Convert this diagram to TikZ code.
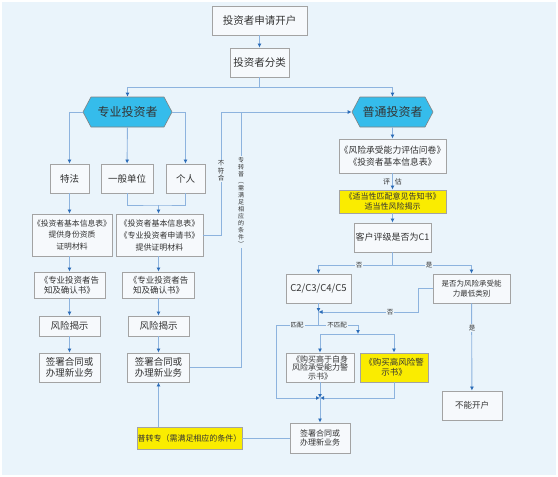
\documentclass[tikz,border=0pt]{standalone}
\usepackage{fontspec}
\setmainfont{Noto Sans CJK SC}
\usetikzlibrary{arrows.meta,shapes.symbols}
\definecolor{bgblue}{HTML}{EAF4FB}
\definecolor{lineblue}{HTML}{8DB3DE}
\definecolor{tipblue}{HTML}{2B6CB8}
\definecolor{boxgray}{HTML}{A3A3A3}
\definecolor{boxfill}{HTML}{F6F9FC}
\definecolor{hexcyan}{HTML}{35BCEB}
\definecolor{noteyellow}{HTML}{FAEC00}
\definecolor{txt}{HTML}{333333}
\newcommand{\fs}[2]{\fontsize{#1}{#2}\selectfont}

\begin{document}
\begin{tikzpicture}[x=1pt,y=-1pt,
		size/.style 2 args={minimum width=#1pt,minimum height=#2pt},
		box/.style={draw=boxgray,fill=boxfill,line width=0.9pt,align=center,inner sep=0pt,text=txt},
		note/.style={box,fill=noteyellow},
		hexa/.style={shape=signal,signal to=west and east,signal pointer angle=124,draw=boxgray!80!black,fill=hexcyan,line width=0.6pt,inner sep=0pt,text=txt,font=\fs{12}{14}},
		link/.style={draw=lineblue,line width=0.9pt},
		flow/.style={link,-{Latex[length=4pt,width=4pt,color=tipblue]}},
		tag/.style={fill=bgblue,inner sep=1pt,text=txt,font=\fs{6.5}{7.5}}]
	\useasboundingbox (0,0) rectangle (558,477);
	\fill[white] (0,0) rectangle (558,477);
	\fill[bgblue] (2,2) rectangle (556,475);

	\node[box,size={95}{29},font=\fs{10.5}{12}] (open) at (259.5,20.5) {投资者申请开户};
	\node[box,size={59}{29},font=\fs{10.5}{12}] (classify) at (259.5,62.5) {投资者分类};
	\node[hexa,size={89}{30}] (prohex) at (127.5,112) {专业投资者};
	\node[hexa,size={81}{30}] (comhex) at (392.5,112) {普通投资者};

	\node[box,size={39}{29},font=\fs{9.5}{11}] (tefa) at (69.5,178.5) {特法};
	\node[box,size={52}{29},font=\fs{9.5}{11}] (unit) at (127,178.5) {一般单位};
	\node[box,size={39}{29},font=\fs{9.5}{11}] (person) at (185.5,178.5) {个人};
	\node[box,size={80}{42},font=\fs{7.8}{11.5}] (docA) at (72,235) {《投资者基本信息表》\\提供身份资质\\证明材料};
	\node[box,size={87}{42},font=\fs{8}{12}] (docB) at (159.5,235) {《投资者基本信息表》\\《专业投资者申请书》\\提供证明材料};
	\node[box,size={71}{26},font=\fs{8.5}{10}] (notiA) at (69.5,285) {《专业投资者告\\知及确认书》};
	\node[box,size={72}{26},font=\fs{8.5}{10}] (notiB) at (158.5,285) {《专业投资者告\\知及确认书》};
	\node[box,size={61}{20},font=\fs{9.5}{11}] (riskA) at (69.5,326) {风险揭示};
	\node[box,size={61}{20},font=\fs{9.5}{11}] (riskB) at (158.5,326) {风险揭示};
	\node[box,size={61}{29},font=\fs{9.5}{11}] (signA) at (69.5,367.5) {签署合同或\\办理新业务};
	\node[box,size={62}{29},font=\fs{9.5}{11}] (signB) at (158.5,367.5) {签署合同或\\办理新业务};
	\node[note,size={105}{22},font=\fs{8}{10}] (convert) at (189.5,438) {普转专（需满足相应的条件）};

	\node[box,size={107}{34},font=\fs{8.8}{12}] (quest) at (392.5,156) {《风险承受能力评估问卷》\\《投资者基本信息表》};
	\node[note,size={107}{23},font=\fs{8}{9.5}] (suit) at (392.5,201.5) {《适当性匹配意见告知书》\\适当性风险揭示};
	\node[box,size={77}{29},font=\fs{9}{11}] (c1) at (392.5,237.5) {客户评级是否为C1};
	\node[box,size={65}{29},font=\fs{9.5}{11}] (c2) at (318.5,288.5) {C2/C3/C4/C5};
	\node[box,size={77}{29},font=\fs{7.5}{9.5}] (lowest) at (471.5,288.5) {是否为风险承受能\\力最低类别};
	\node[box,size={68}{29},font=\fs{8}{8.5}] (warnA) at (320,367.5) {《购买高于自身\\风险承受能力警\\示书》};
	\node[note,size={68}{29},font=\fs{8.5}{9.5}] (warnB) at (394,367.5) {《购买高风险警\\示书》};
	\node[box,size={60}{30},font=\fs{8}{9.5}] (signC) at (320,438) {签署合同或\\办理新业务};
	\node[box,size={60}{29},font=\fs{8.5}{10}] (refuse) at (472,405.5) {不能开户};

	\coordinate (split) at (259.5,87);
	\coordinate (jB) at (158.5,205);
	\coordinate (turnA) at (221,112);
	\coordinate (turnB) at (241,112);
	\coordinate (fork) at (392.5,265);
	\coordinate (back) at (418,312);
	\coordinate (jC) at (318.5,312);
	\coordinate (jD) at (318.5,325);
	\coordinate (matchL) at (276,398);
	\coordinate (jE) at (358,334);
	\coordinate (jF) at (320,398);

	\draw[flow] (open) -- (classify);
	\draw[link] (classify.south) -- (split);
	\draw[flow] (split) -| (prohex);
	\draw[flow] (split) -| (comhex);
	\draw[flow] (prohex.west) -| (tefa);
	\draw[flow] (prohex) -- (unit);
	\draw[flow] (prohex.east) -| (person);
	\draw[flow] (tefa) -- (tefa |- docA.north);
	\draw[link] (unit.south) |- (jB) -| (person.south);
	\draw[flow] (jB) -- (jB |- docB.north);
	\draw[flow] (notiA |- docA.south) -- (notiA);
	\draw[flow] (notiA) -- (riskA);
	\draw[flow] (riskA) -- (signA);
	\draw[flow] (notiB |- docB.south) -- (notiB);
	\draw[flow] (notiB) -- (riskB);
	\draw[flow] (riskB) -- (signB);
	\draw[flow] (docB.east) -| (turnA) -- (comhex.west);
	\draw[link] (signB.east) -| (turnB);
	\draw[flow] (signB |- convert.north) -- (signB);
	\draw[link] (convert) -- (signC);

	\draw[flow] (comhex) -- (quest);
	\draw[flow] (quest) -- node[tag,fill=none,font=\fs{7}{8}]{评\hspace{0.7em}估} (suit);
	\draw[flow] (suit) -- (c1);
	\draw[link] (c1) -- (fork);
	\draw[flow] (fork) -| (c2);
	\draw[flow] (fork) -| (lowest);
	\draw[flow] (lowest.west) -| (back) -- (jC);
	\draw[flow] (c2) -- (jC);
	\draw[link] (jC) -- (jD);
	\draw[flow] (jD) -| (matchL) -- (jF);
	\draw[flow] (jD) -| (jE);
	\draw[flow] (jE) -| (warnA);
	\draw[flow] (jE) -| (warnB);
	\draw[flow] (warnA) -- (jF);
	\draw[flow] (warnB.south) |- (jF);
	\draw[flow] (jF) -- (signC);
	\draw[flow] (lowest) -- (refuse);

	\node[tag,align=center] at (221,171) {不\\符\\合};
	\node[tag,align=center,font=\fs{6}{7}] at (241,202) {专\\转\\普\\︵\\需\\满\\足\\相\\应\\的\\条\\件\\︶};
	\node[tag] at (359,265) {否};
	\node[tag] at (429,265) {是};
	\node[tag] at (390,312) {否};
	\node[tag] at (297,325) {匹配};
	\node[tag] at (337,325) {不匹配};
	\node[tag] at (472,328) {是};
\end{tikzpicture}
\end{document}
